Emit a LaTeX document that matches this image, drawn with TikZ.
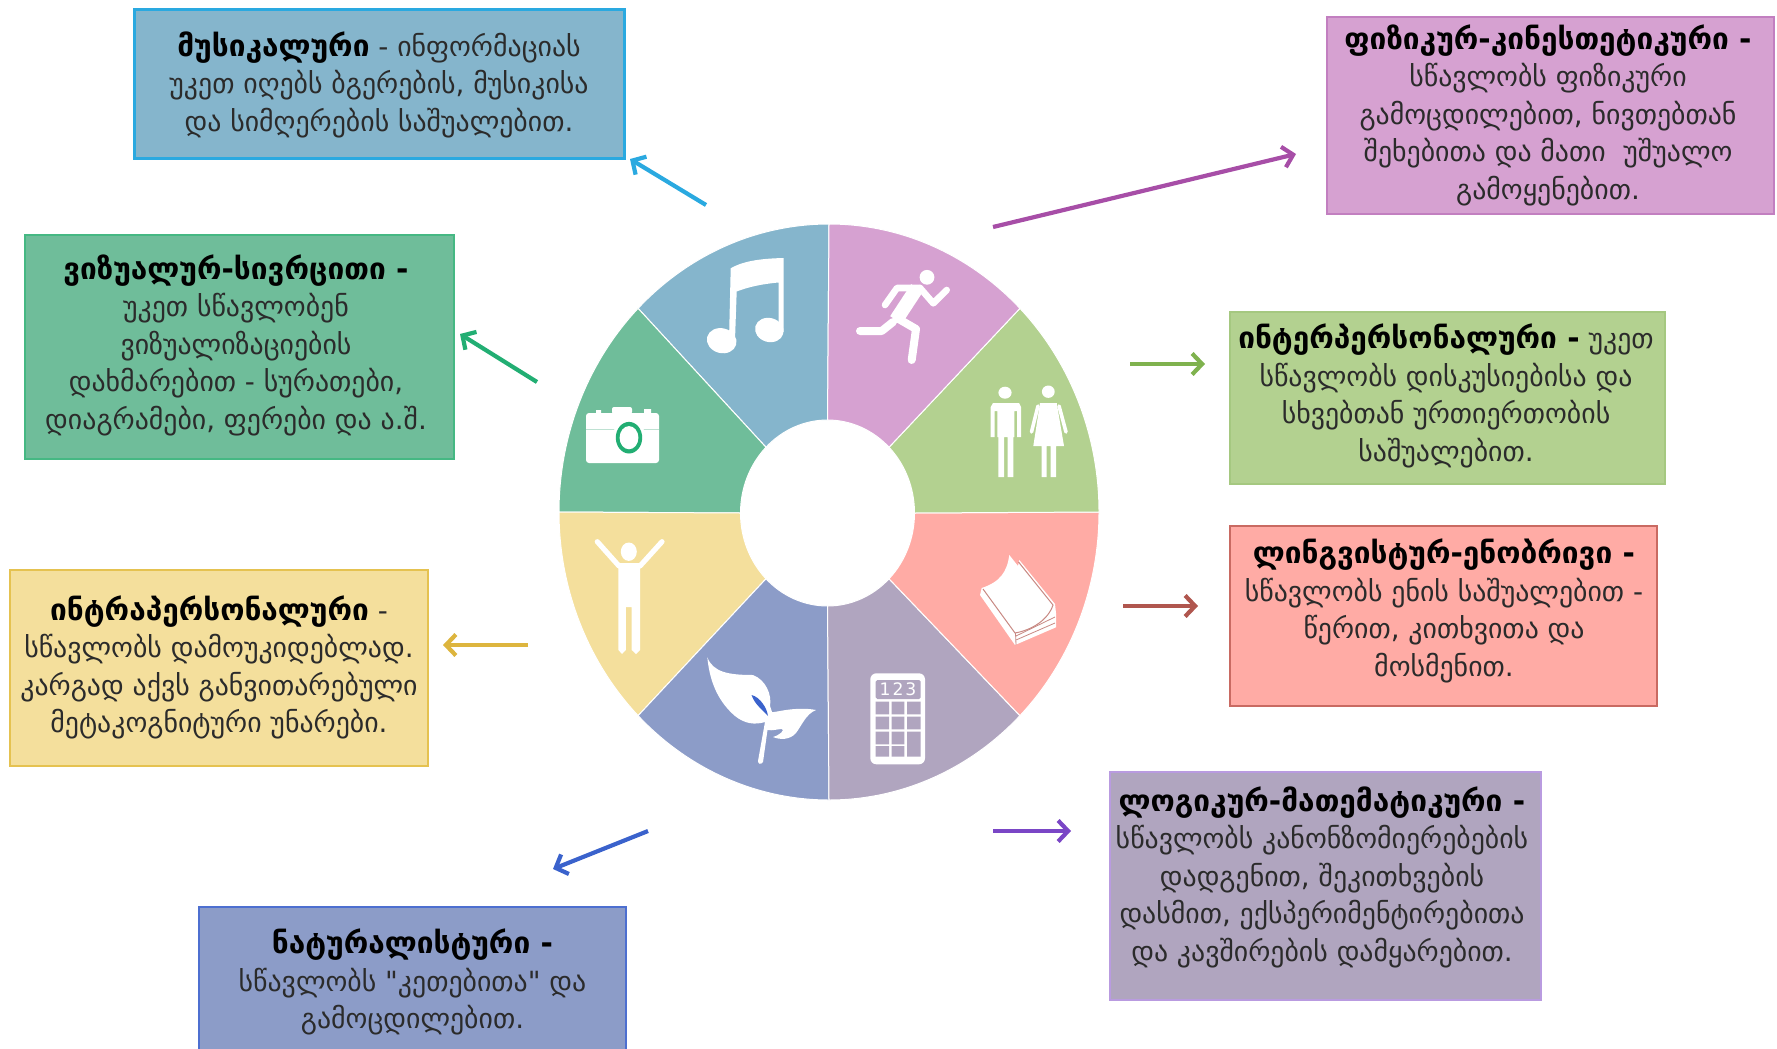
\documentclass[tikz,border=0pt]{standalone}
\usepackage{fontspec}
\setmainfont{DejaVu Sans}
\newfontfamily\plainq{DejaVu Sans}
\usetikzlibrary{arrows.meta,calc}
\definecolor{cMus}{HTML}{85B5CC}\definecolor{bMus}{HTML}{2AA9E0}\definecolor{aMus}{HTML}{2AA9E0}
\definecolor{cVis}{HTML}{6FBD9A}\definecolor{bVis}{HTML}{45B883}\definecolor{aVis}{HTML}{22AE73}
\definecolor{cKin}{HTML}{D6A1D1}\definecolor{bKin}{HTML}{C27FC0}\definecolor{aKin}{HTML}{A74EA7}
\definecolor{cInt}{HTML}{B3D190}\definecolor{bInt}{HTML}{A5C880}\definecolor{aInt}{HTML}{7FB24E}
\definecolor{cLin}{HTML}{FFABA5}\definecolor{bLin}{HTML}{C96A62}\definecolor{aLin}{HTML}{B0564E}
\definecolor{cLog}{HTML}{B0A5BF}\definecolor{bLog}{HTML}{B99BE0}\definecolor{aLog}{HTML}{7A46C6}
\definecolor{cNat}{HTML}{8C9CC8}\definecolor{bNat}{HTML}{4D6FD0}\definecolor{aNat}{HTML}{3A62CC}
\definecolor{cIpr}{HTML}{F4DF9C}\definecolor{bIpr}{HTML}{E5C250}\definecolor{aIpr}{HTML}{DDB53E}
\definecolor{txt}{HTML}{2B2B2B}
\newcommand{\bx}[8]{\node[boxs,fill=#6,draw=#7,line width=#8pt,minimum width={(#4-#2)*0.5},minimum height={(#5-#3)*0.5}] (#1) at ({(#2+#4)/2},{(#3+#5)/2}) {};}
\newcommand{\sector}[2]{\fill[#2,draw=white,line width=.5pt] ($(wi)+(#1:43.5pt and 46.5pt)$) -- ($(wc)+(#1:135pt and 144pt)$) arc[start angle=#1,delta angle=45,x radius=135pt,y radius=144pt] -- ($(wi)+(#1+45:43.5pt and 46.5pt)$) arc[start angle=#1+45,delta angle=-45,x radius=43.5pt,y radius=46.5pt] -- cycle;}
\newcommand{\hd}[1]{\textcolor{black}{{\fontsize{14.9}{18.75}\selectfont\bfseries #1}}}
\tikzset{
 boxs/.style={rectangle,inner sep=0pt,outer sep=0pt},
 lbl/.style={align=center,inner sep=0pt,text=txt,font=\fontsize{13.9}{18.75}\selectfont},
 arw/.style={-{Straight Barb[length=5pt,width=10.5pt,line width=2.1pt]},line width=2.1pt},
 ic/.style={white,line cap=round,line join=round}
}
\begin{document}
\begin{tikzpicture}[x=.5pt,y=-.5pt]
\useasboundingbox (0,0) rectangle (1777,1049);
\clip (0,0) rectangle (1777,1049);
\coordinate (wc) at (829,512);
\coordinate (wi) at (827.5,513);
% wheel
\sector{90}{cMus}\sector{135}{cVis}\sector{180}{cIpr}\sector{225}{cNat}
\sector{270}{cLog}\sector{315}{cLin}\sector{0}{cInt}\sector{45}{cKin}
% boxes
\bx{bMus}{134}{9}{624}{158}{cMus}{bMus}{1.5}
\bx{bVis}{25}{235}{454}{459}{cVis}{bVis}{1}
\bx{bKin}{1327}{17}{1774}{214}{cKin}{bKin}{1}
\bx{bInt}{1230}{312}{1665}{484}{cInt}{bInt}{1}
\bx{bLin}{1230}{526}{1657}{706}{cLin}{bLin}{.8}
\bx{bLog}{1110}{772}{1541}{1000}{cLog}{bLog}{.8}
\bx{bNat}{199}{907}{626}{1070}{cNat}{bNat}{.8}
\bx{bIpr}{10}{570}{428}{766}{cIpr}{bIpr}{.8}
% texts
\node[lbl] (tMus) at (379,84.5) {\hd{მუსიკალური} - ინფორმაციას\\უკეთ იღებს ბგერების, მუსიკისა\\და სიმღერების საშუალებით.};
\node[lbl] (tVis) at (236,345) {\hd{ვიზუალურ-სივრცითი -}\\უკეთ სწავლობენ\\ვიზუალიზაციების\\დახმარებით - სურათები,\\დიაგრამები, ფერები და ა.შ.};
\node[lbl] (tKin) at (1548,115) {\hd{ფიზიკურ-კინესთეტიკური -}\\სწავლობს ფიზიკური\\გამოცდილებით, ნივთებთან\\შეხებითა და მათი\ \ უშუალო\\გამოყენებით.};
\node[lbl] (tInt) at (1446,396) {\hd{ინტერპერსონალური -} უკეთ\\სწავლობს დისკუსიებისა და\\სხვებთან ურთიერთობის\\საშუალებით.};
\node[lbl] (tLin) at (1444,611) {\hd{ლინგვისტურ-ენობრივი -}\\სწავლობს ენის საშუალებით -\\წერით, კითხვითა და\\მოსმენით.};
\node[lbl] (tLog) at (1322,877) {\hd{ლოგიკურ-მათემატიკური -}\\სწავლობს კანონზომიერებების\\დადგენით, შეკითხვების\\დასმით, ექსპერიმენტირებითა\\და კავშირების დამყარებით.};
\node[lbl] (tNat) at (412.5,982) {\hd{ნატურალისტური -}\\სწავლობს {\plainq "}კეთებითა{\plainq "} და\\გამოცდილებით.};
\node[lbl] (tIpr) at (219,667.5) {\hd{ინტრაპერსონალური} -\\სწავლობს დამოუკიდებლად.\\კარგად აქვს განვითარებული\\მეტაკოგნიტური უნარები.};
% arrows
\coordinate (aMs) at (706,205);\coordinate (aMe) at (630,159);
\coordinate (aVs) at (537,382);\coordinate (aVe) at (460,334);
\coordinate (aKs) at (993,227);\coordinate (aKe) at (1296,154);
\coordinate (aIs) at (1130,364);\coordinate (aIe) at (1205,364);
\coordinate (aLs) at (1123,606);\coordinate (aLe) at (1198,606);
\coordinate (aGs) at (993,831);\coordinate (aGe) at (1071,831);
\coordinate (aNs) at (648,831);\coordinate (aNe) at (553,869);
\coordinate (aPs) at (528,645);\coordinate (aPe) at (443,645);
\draw[arw,aMus] (aMs)--(aMe);
\draw[arw,aVis] (aVs)--(aVe);
\draw[arw,aKin] (aKs)--(aKe);
\draw[arw,aInt] (aIs)--(aIe);
\draw[arw,aLin] (aLs)--(aLe);
\draw[arw,aLog] (aGs)--(aGe);
\draw[arw,aNat] (aNs)--(aNe);
\draw[arw,aIpr] (aPs)--(aPe);
% music note
\fill[white] (730.7,268.3) .. controls (745,260) and (765,258.5) .. (783.5,258) -- (783.5,332) -- (778.5,332) -- (778.5,282.5) .. controls (762,284) and (748,287) .. (736.7,291.5) -- (735,340) -- (729,340) -- cycle;
\fill[white,rotate around={-15:(721.7,340.7)}] (721.7,340.7) ellipse[x radius=7.5pt,y radius=6.2pt];
\fill[white,rotate around={-15:(769.3,330)}] (769.3,330) ellipse[x radius=7.2pt,y radius=6pt];
% runner
\fill[white] (927,277.3) circle[radius=3.7pt];
\draw[ic,line width=3.3pt] (885,305)--(897,288)--(920,288);
\draw[ic,line width=3.3pt] (920,288)--(933.3,303.3)--(946.7,290);
\draw[ic,line width=7pt,line cap=butt] (917,288)--(896,320);
\draw[ic,line width=4pt] (893,322)--(881.7,331)--(860,331);
\draw[ic,line width=4pt] (897,318)--(916,329)--(911.7,360);
% people
\fill[white] (1005,392.7) ellipse[x radius=3.3pt,y radius=3pt];
\fill[white] (990.7,407) -- (993,403) -- (1019,403) -- (1021,407) -- (1021,437) -- (1017,437) -- (1017,411) -- (1014.3,411) -- (1014.3,437) -- (1013.3,437) -- (1013.3,477) -- (1007.5,477) -- (1007.5,437) -- (1004,437) -- (1004,477) -- (998.3,477) -- (998.3,437) -- (997.3,437) -- (997.3,411) -- (994.7,411) -- (994.7,437) -- (990.7,437) -- cycle;
\fill[white] (1048.3,391.7) ellipse[x radius=3.2pt,y radius=3.1pt];
\fill[white] (1040,403) -- (1056.7,403) -- (1064,446) -- (1056,446) -- (1056,477) -- (1050.7,477) -- (1050.7,446) -- (1046.7,446) -- (1046.7,477) -- (1041.7,477) -- (1041.7,446) -- (1033.3,446) -- cycle;
\draw[ic,line width=1.8pt] (1038,406)--(1031.5,432);
\draw[ic,line width=1.8pt] (1059,406)--(1066,432);
% book
\fill[white] (1009.3,555) .. controls (1007,572) and (1000,582) .. (981.7,588) -- (980,595) -- (1015,645) -- (1056,627.3) -- (1056,613) -- (1055,604) -- (1019.3,560) -- (1018,566) -- cycle;
\draw[color=aLin!70,line width=.5pt] (983,589)--(1015,633) .. controls (1032,630) and (1048,620) .. (1053,605) -- (1018.5,562);
\draw[color=aLin!70,line width=.4pt] (1016,636)--(1055,617) (1016,640)--(1055,623) (1015.5,633)--(1016,645);
% camera
\fill[white,rounded corners=1.5pt] (586,413) rectangle (659,463);
\fill[white,rounded corners=1pt] (612,407) rectangle (632,414);
\fill[white] (596,410) rectangle (601,414) (644,409) rectangle (651,414);
\fill[cVis!45] (586,428.5) rectangle (659,429.5);
\fill[white] (629,437.7) ellipse[x radius=8.2pt,y radius=9.4pt];
\fill[aVis] (629,437.7) ellipse[x radius=6.6pt,y radius=7.9pt];
\fill[white] (629,437.7) ellipse[x radius=4.7pt,y radius=5.8pt];
% person with raised arms
\fill[white] (628.8,551.7) ellipse[x radius=4pt,y radius=4.6pt];
\draw[ic,line width=2.6pt] (597.3,541.7)--(619,566);
\draw[ic,line width=2.6pt] (662,541.7)--(640,566);
\fill[white] (618.4,563) -- (640,563) -- (640,650) -- (636,654) -- (631.7,650) -- (631.7,607) -- (625.8,607) -- (625.8,650) -- (622,654) -- (618.4,650) -- cycle;
% calculator
\fill[white,rounded corners=3pt] (870.3,673.3) rectangle (925,764.3);
\fill[cLog,rounded corners=.8pt] (875.7,680) rectangle (920.7,699);
\node[inner sep=0pt,text=white,font=\fontsize{8.6}{9}\selectfont] (calc) at (898,689.5) {1\kern1pt 2\kern1pt 3};
\fill[cLog] (875.7,701.7) rectangle (889,714.3) (891.7,701.7) rectangle (904.3,714.3) (907,701.7) rectangle (920.7,714.3);
\fill[cLog] (875.7,716.7) rectangle (889,729.3) (891.7,716.7) rectangle (904.3,729.3) (907,716.7) rectangle (920.7,729.3);
\fill[cLog] (875.7,731.7) rectangle (889,744.3) (891.7,731.7) rectangle (904.3,744.3) (907,731.7) rectangle (920.7,756.7);
\fill[cLog] (875.7,746) rectangle (889,756.7) (891.7,746) rectangle (904.3,756.7);
% leaf
\fill[white] (707.3,657.3) .. controls (713,672) and (728,675) .. (753,675) .. controls (766,680) and (772,695) .. (770,706) -- (772,712) .. controls (774,713) and (795,706) .. (816,710) .. controls (806,714) and (802,725) .. (796,733) .. controls (790,740) and (780,740) .. (773,737) .. controls (780,735) and (785,730) .. (782,729) .. controls (778,729) and (772,731) .. (767.5,730) -- (763,762) .. controls (761,765) and (758,764) .. (758,761) -- (765,722) .. controls (755,725) and (745,724) .. (735,716) .. controls (720,703) and (710,685) .. (707.3,657.3) -- cycle;
\fill[aNat] (751.5,695) .. controls (760,697) and (767,708) .. (768,716) .. controls (763,710) and (755,705) .. (751.5,695) -- cycle;
\end{tikzpicture}
\end{document}
